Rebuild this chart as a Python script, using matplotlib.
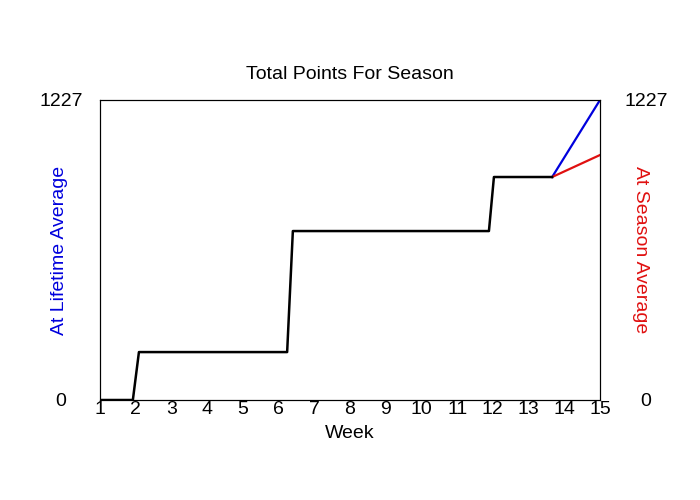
import matplotlib
matplotlib.use("Agg")
import matplotlib.pyplot as plt

plt.rcParams["font.family"] = ["Liberation Sans", "DejaVu Sans"]

# season total so far (weeks with fractional step transitions)
week_pts = [1, 1.92, 2.09, 6.24, 6.40, 11.89, 12.03, 13.66]
total_pts = [0, 0, 196, 196, 691, 691, 912, 912]

# projections to end of season
proj_weeks = [13.66, 15]
lifetime_proj = [912, 1227]
season_proj = [912, 1002]

y_max = 1227
weeks = list(range(1, 16))

fig = plt.figure(figsize=(7, 5), dpi=100)
ax = fig.add_axes([100 / 700, 0.2, 500 / 700, 0.6])

ax.plot(proj_weeks, lifetime_proj, color="#0000dd", lw=1.6)
ax.plot(proj_weeks, season_proj, color="#e01010", lw=1.6)
ax.plot(week_pts, total_pts, color="black", lw=1.8)

ax.set_xlim(1, 15)
ax.set_ylim(0, y_max)
ax.set_xticks(weeks)
ax.set_xticklabels([str(w) for w in weeks], fontsize=14)
ax.tick_params(axis="x", length=0, pad=1)
ax.set_yticks([0, y_max])
ax.set_yticklabels(["0", str(y_max)], fontsize=14, ha="center")
ax.tick_params(axis="y", length=0, pad=28)
ax.set_xlabel("Week", fontsize=14, labelpad=5)
ax.set_ylabel("At Lifetime Average", color="#0000dd", fontsize=14, va="center")
ax.yaxis.set_label_coords(-40 / 500, 0.5)
ax.set_title("Total Points For Season", fontsize=14, pad=15)

ax2 = ax.twinx()
ax2.set_ylim(0, y_max)
ax2.set_yticks([0, y_max])
ax2.set_yticklabels(["0", str(y_max)], fontsize=14, ha="center")
ax2.tick_params(axis="y", length=0, pad=33)
ax2.set_ylabel("At Season Average", color="#e01010", fontsize=14, rotation=270, va="center")
ax2.yaxis.set_label_coords(1 + 40 / 500, 0.5)

fig.savefig("out.png", dpi=100)
